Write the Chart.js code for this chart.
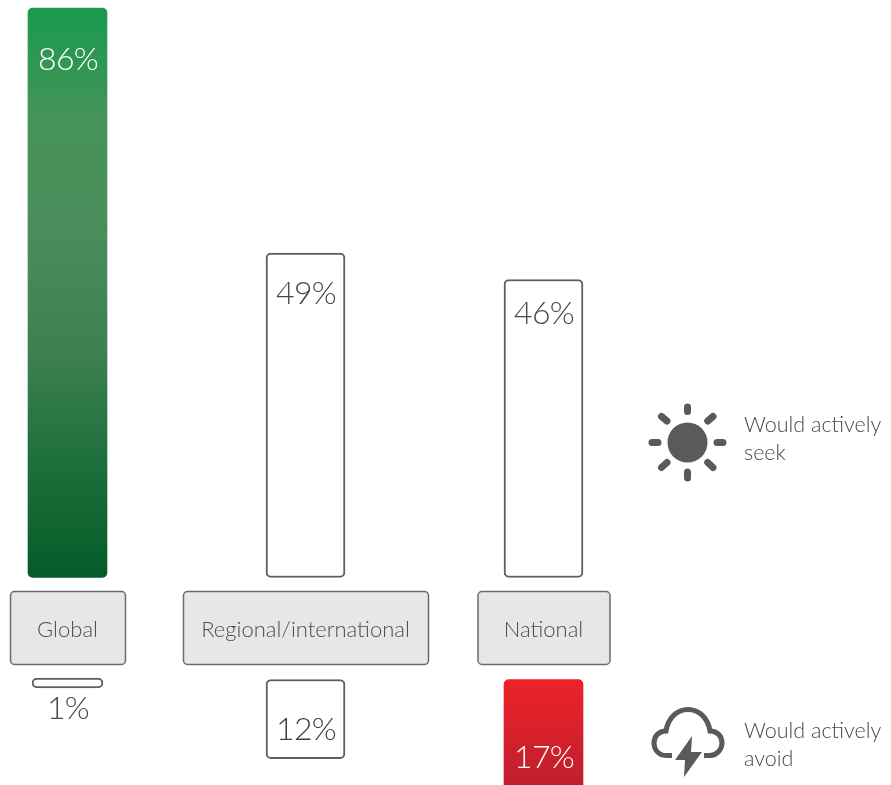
<!DOCTYPE html>
<html>
<head>
<meta charset="utf-8">
<title>Would actively seek / avoid</title>
<script src="https://cdn.jsdelivr.net/npm/chart.js@4"></script>
<style>
  html, body { margin: 0; background: #fff; overflow: hidden; }
  #wrap { position: relative; width: 891px; height: 785px; }
  #chart { position: absolute; left: 0; top: 0; }
  .key { position: absolute; left: 744px; font: 300 21.5px/28px Lato, sans-serif; color: #48484a; white-space: nowrap; }
  svg { position: absolute; left: 0; top: 0; pointer-events: none; }
</style>
</head>
<body>
<div id="wrap">
  <canvas id="chart" width="891" height="785"></canvas>
  <svg width="891" height="785" fill="none" stroke="#5a5a5a">
    <circle cx="687.5" cy="442.5" r="20" fill="#5a5a5a" stroke="none"/>
    <g stroke-width="7" stroke-linecap="round">
      <path d="M687.5 407V411.5M687.5 472V478M652 442.5H658M717 442.5H723M661.5 416.5L667 421M707.7 462.5L713 467.5M713 416.5L707.7 421M667 462.5L661.5 467.5"/>
    </g>
    <path stroke-width="5" d="M672 755.5H666C658 755.5 654 749 654 743C654 736 659 731 666 731C668 718 677 709.5 688 709.5C699 709.5 708 718 710 731C717 731 722 736 722 743C722 749 717 755.5 710 755.5H704"/>
    <path stroke="none" fill="#5a5a5a" d="M692 736L675 760H685L684 777L702 752H691Z"/>
  </svg>
  <div class="key" style="top:410px">Would actively<br>seek</div>
  <div class="key" style="top:716px">Would actively<br>avoid</div>
</div>
<script>
const categories = ['Global', 'Regional/international', 'National']
const seekShare = [86, 49, 46]
const avoidShare = [1, 12, 17]

const H = 785
const FONT = 'Lato, sans-serif'

// zero line pixel + pixels per percent -> axis bounds for a full height chart
function axisUp(zeroPx, pxPerPct) {
  return { display: false, min: (zeroPx - H) / pxPerPct, max: zeroPx / pxPerPct }
}
function axisDown(zeroPx, pxPerPct) {
  return { display: false, reverse: true, min: -zeroPx / pxPerPct, max: (H - zeroPx) / pxPerPct }
}

function gradient(ctx, stops) {
  const c = ctx.chart
  if (!c.chartArea || ctx.raw === null || ctx.raw === undefined) return stops[0]
  const axis = c.scales[ctx.dataset.yAxisID]
  const g = c.ctx.createLinearGradient(0, axis.getPixelForValue(0), 0, axis.getPixelForValue(ctx.raw))
  const list = axis.options.reverse ? stops : [...stops].reverse()
  list.forEach((s, i) => g.addColorStop(i / (list.length - 1), s))
  return g
}
const green = ctx => gradient(ctx, ['#1a9a4e', '#469359', '#4a8c5b', '#3f8051', '#1d6f3b', '#055c28'])
const red = ctx => gradient(ctx, ['#ee2229', '#bc1f2e'])

// one dataset per bar, all sitting on the same category slot
function oneBar(values, i, axisID, fill, extra) {
  return Object.assign({
    data: values.map((v, j) => j === i ? v : null),
    yAxisID: axisID,
    grouped: false,
    clip: false,
    barThickness: 79,
    borderRadius: 5,
    borderSkipped: false,
    backgroundColor: fill || '#fff',
    borderColor: fill ? 'rgba(0,0,0,0)' : '#5f5f5f',
    borderWidth: fill ? 0 : 2
  }, extra)
}

// grey boxes behind the axis labels
const boxWidths = [115, 245, 132]
const categoryBoxes = {
  id: 'categoryBoxes',
  beforeDraw(chart) {
    const { ctx, scales: { x } } = chart
    ctx.save()
    categories.forEach((c, i) => {
      const w = boxWidths[i]
      ctx.beginPath()
      ctx.roundRect(x.getPixelForValue(i) - w / 2 + 0.5, 591.5, w, 73, 4)
      ctx.fillStyle = '#e6e7e9'
      ctx.fill()
      ctx.lineWidth = 1.5
      ctx.strokeStyle = '#6b6b6b'
      ctx.stroke()
    })
    ctx.restore()
  }
}

// percent labels, offset from the tip of each bar
const labelOffsets = [52, 41, 34, 21, -29, -34]
const labelColors = ['#fff', '#48484a', '#48484a', '#48484a', '#3f3f41', '#fff']
const barLabels = {
  id: 'barLabels',
  afterDatasetsDraw(chart) {
    const { ctx } = chart
    ctx.save()
    ctx.font = '300 32px ' + FONT
    ctx.letterSpacing = '-0.7px'
    ctx.textAlign = 'center'
    ctx.textBaseline = 'middle'
    chart.data.datasets.forEach((ds, d) => {
      const i = ds.data.findIndex(v => v !== null)
      const el = chart.getDatasetMeta(d).data[i]
      ctx.fillStyle = labelColors[d]
      ctx.fillText(ds.data[i] + '%', el.x + 0.5, el.y + labelOffsets[d])
    })
    ctx.restore()
  }
}

new Chart(document.getElementById('chart'), {
  type: 'bar',
  plugins: [categoryBoxes, barLabels],
  data: {
    labels: categories,
    datasets: [
      oneBar(seekShare, 0, 'yUp', green),
      oneBar(seekShare, 1, 'yUp'),
      oneBar(seekShare, 2, 'yNational'),
      oneBar(avoidShare, 0, 'yPill', null, { barThickness: 71 }),
      oneBar(avoidShare, 1, 'yDown'),
      oneBar(avoidShare, 2, 'yDown', red)
    ]
  },
  options: {
    responsive: false,
    animation: false,
    events: [],
    layout: { padding: { left: 67.5, right: 347.5, top: 0, bottom: 0 } },
    plugins: { legend: { display: false }, tooltip: { enabled: false } },
    scales: {
      x: {
        offset: false,
        position: { yUp: -5.85 },
        afterFit(s) { s.height = 0 },
        grid: { display: false, drawTicks: false },
        border: { display: false },
        ticks: { autoSkip: false, maxRotation: 0, padding: 0, color: '#4d4d4f', font: { family: FONT, size: 22, weight: 300 } }
      },
      yUp: axisUp(577.5, 6.62),
      yNational: axisUp(577.5, 298 / 46),   // drawn a little shorter than 46 in the source
      yDown: axisDown(679.5, 6.6),
      yPill: axisDown(678, 10)              // the 1% sliver is inflated in the source
    }
  }
})
</script>
</body>
</html>
